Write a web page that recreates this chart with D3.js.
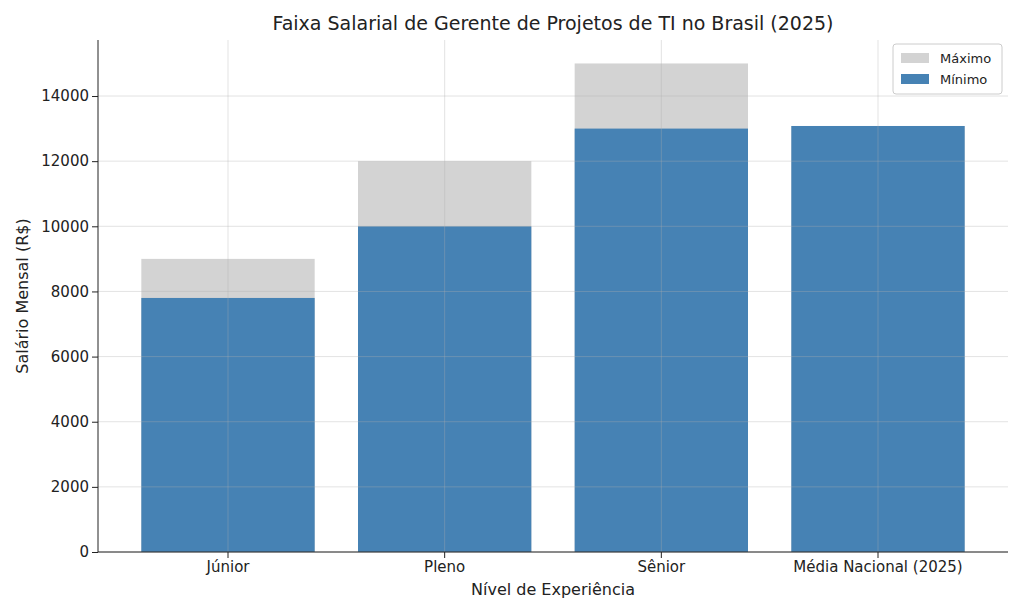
<!DOCTYPE html><html><head><meta charset="utf-8"><script src="https://cdn.jsdelivr.net/npm/d3@7"></script>
<style>body{margin:0;background:#fff}text{font-family:"DejaVu Sans",sans-serif}</style></head><body><svg id="c" width="1024" height="614"></svg><script>
const categories=["Júnior","Pleno","Sênior","Média Nacional (2025)"];
const minimo=[7800,10000,13000,13080];
const maximo=[9000,12000,15000,13080];
const yTicks=[0,2000,4000,6000,8000,10000,12000,14000];
const svg=d3.select("#c");
const L=98,R=1008,T=40,B=552;
const x=d3.scaleBand().domain(categories).range([L,R]).paddingInner(0.2).paddingOuter(0.2);
const y=d3.scaleLinear().domain([0,15720]).range([B,T]);
const g=svg.append("g");
// bars
g.selectAll(".mx").data(categories).join("rect").attr("x",d=>x(d)).attr("width",x.bandwidth())
 .attr("y",(d,i)=>y(maximo[i])).attr("height",(d,i)=>B-y(maximo[i])).attr("fill","#d3d3d3");
g.selectAll(".mn").data(categories).join("rect").attr("x",d=>x(d)).attr("width",x.bandwidth())
 .attr("y",(d,i)=>y(minimo[i])).attr("height",(d,i)=>B-y(minimo[i])).attr("fill","#4682b4");
// grid
g.selectAll(".gy").data(yTicks).join("line").attr("x1",L).attr("x2",R).attr("y1",d=>y(d)).attr("y2",d=>y(d)).attr("stroke","#b0b0b0").attr("stroke-opacity",0.35);
g.selectAll(".gx").data(categories).join("line").attr("y1",T).attr("y2",B).attr("x1",d=>x(d)+x.bandwidth()/2).attr("x2",d=>x(d)+x.bandwidth()/2).attr("stroke","#b0b0b0").attr("stroke-opacity",0.35);
// axes
const ay=svg.append("g").attr("transform",`translate(${L},0)`).call(d3.axisLeft(y).tickValues(yTicks).tickFormat(d3.format("d")).tickSizeOuter(0));
const ax=svg.append("g").attr("transform",`translate(0,${B})`).call(d3.axisBottom(x).tickSizeOuter(0));
[ay,ax].forEach(a=>{a.selectAll("text").attr("font-size",15).attr("fill","#222");a.select(".domain").attr("stroke","#222");a.selectAll(".tick line").attr("stroke","#222");});
ax.select(".domain").attr("d",`M${L},0H${R}`);
ay.select(".domain").attr("d",`M0,${T}V${B}`);
svg.append("text").attr("x",553).attr("y",30).attr("text-anchor","middle").attr("font-size",19).attr("fill","#222").text("Faixa Salarial de Gerente de Projetos de TI no Brasil (2025)");
svg.append("text").attr("x",553).attr("y",595).attr("text-anchor","middle").attr("font-size",16).attr("fill","#222").text("Nível de Experiência");
svg.append("text").attr("transform","translate(28,296) rotate(-90)").attr("text-anchor","middle").attr("font-size",16).attr("fill","#222").text("Salário Mensal (R$)");
// legend
const lg=svg.append("g").attr("transform","translate(893,44)");
lg.append("rect").attr("width",109).attr("height",50).attr("rx",3).attr("fill","#fff").attr("fill-opacity",0.8).attr("stroke","#ccc");
[["Máximo","#d3d3d3"],["Mínimo","#4682b4"]].forEach((d,i)=>{
 lg.append("rect").attr("x",8).attr("y",9+i*21).attr("width",28).attr("height",10).attr("fill",d[1]);
 lg.append("text").attr("x",47).attr("y",19+i*21).attr("font-size",13).attr("fill","#222").text(d[0]);});
</script></body></html>
